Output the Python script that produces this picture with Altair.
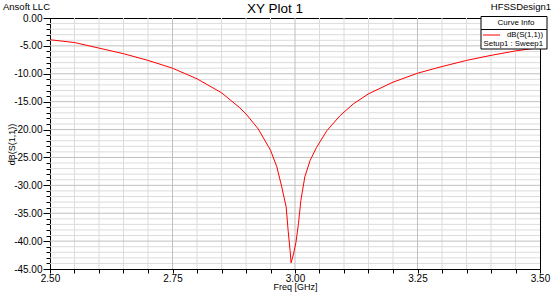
import altair as alt
import pandas as pd

# ---- data ----
freq = [2.50, 2.55, 2.60, 2.65, 2.70, 2.75, 2.80, 2.85, 2.886, 2.90, 2.925, 2.95,
        2.963, 2.973, 2.982, 2.986, 2.990, 2.992, 2.997, 3.002, 3.007, 3.012,
        3.020, 3.031, 3.044, 3.065, 3.092, 3.119, 3.15, 3.20, 3.25, 3.30, 3.35,
        3.40, 3.45, 3.50]
s11_db = [-3.9, -4.4, -5.4, -6.4, -7.6, -9.0, -10.9, -13.4, -16.0, -17.2, -19.9, -23.7,
          -26.7, -30.3, -33.9, -38.1, -41.7, -43.9, -42.3, -40.2, -36.9, -32.7,
          -28.5, -25.5, -23.2, -20.2, -17.5, -15.4, -13.6, -11.5, -9.9, -8.7, -7.6,
          -6.7, -5.9, -5.3]

x_major = [2.50, 2.75, 3.00, 3.25, 3.50]
x_minor = [2.55, 2.60, 2.65, 2.70, 2.80, 2.85, 2.90, 2.95, 3.05, 3.10, 3.15, 3.20,
           3.30, 3.35, 3.40, 3.45]
y_major = [0, -5, -10, -15, -20, -25, -30, -35, -40, -45]
y_minor = [v for v in range(-1, -45, -1) if v % 5 != 0]

FONT = "Liberation Sans"
MINOR_COL = "#dcdcdc"
MAJOR_COL = "#c0c0c0"

df = pd.DataFrame({"freq": freq, "db": s11_db})
xs = alt.Scale(domain=[2.5, 3.5], nice=False, zero=False)
ys = alt.Scale(domain=[-45, 0], nice=False, zero=False)

lab_expr = "replace(format(datum.value, '.2f'), '\u2212', '-')"

minor_y = alt.Chart(pd.DataFrame({"v": y_minor})).mark_rule(
    color=MINOR_COL, strokeWidth=1
).encode(
    y=alt.Y("v:Q", scale=ys, axis=alt.Axis(orient="left", values=y_minor, labels=False,
                                           domain=False, grid=False, title=None,
                                           tickSize=4, tickColor="black", tickWidth=1))
)
minor_x = alt.Chart(pd.DataFrame({"v": x_minor})).mark_rule(
    color=MINOR_COL, strokeWidth=1
).encode(
    x=alt.X("v:Q", scale=xs, axis=alt.Axis(orient="bottom", values=x_minor, labels=False,
                                           domain=False, grid=False, title=None,
                                           tickSize=4, tickColor="black", tickWidth=1))
)
major_x = alt.Chart(pd.DataFrame({"v": x_major[1:-1]})).mark_rule(
    color=MAJOR_COL, strokeWidth=1
).encode(x=alt.X("v:Q", scale=xs, axis=None))
major_y = alt.Chart(pd.DataFrame({"v": y_major[1:-1]})).mark_rule(
    color=MAJOR_COL, strokeWidth=1
).encode(y=alt.Y("v:Q", scale=ys, axis=None))

curve = alt.Chart(df).mark_line(color="#ff0000", strokeWidth=1).encode(
    x=alt.X("freq:Q", scale=xs,
            axis=alt.Axis(orient="bottom", values=x_major, labelExpr=lab_expr,
                          grid=False, tickSize=4, tickColor="black", domainColor="black",
                          labelFont=FONT, labelFontSize=10, labelColor="black",
                          labelPadding=0, labelFlush=False,
                          title="Freq [GHz]", titleFont=FONT, titleFontSize=9,
                          titleFontWeight="normal", titleColor="black",
                          titleX=245, titleY=17.5, titleBaseline="middle",
                          titleAlign="center")),
    y=alt.Y("db:Q", scale=ys,
            axis=alt.Axis(orient="left", values=y_major, labelExpr=lab_expr,
                          grid=False, tickSize=7, tickColor="black", domainColor="black",
                          labelFont=FONT, labelFontSize=10, labelColor="black",
                          labelPadding=1, labelFlush=False,
                          title="dB(S(1,1))", titleFont=FONT, titleFontSize=9,
                          titleFontWeight="normal", titleColor="black",
                          titleX=-39, titleY=126, titleAngle=-90,
                          titleBaseline="middle", titleAlign="center")),
)


def txt(s, x, y, size, align="left", baseline="alphabetic"):
    return alt.Chart(pd.DataFrame({"t": [s]})).mark_text(
        font=FONT, fontSize=size, color="black", align=align, baseline=baseline
    ).encode(x=alt.value(x), y=alt.value(y), text="t:N")


title = txt("XY Plot 1", 225, -5, 13.5, align="center")
company = txt("Ansoft LLC", -47, -8, 9.5)
design = txt("HFSSDesign1", 501, -8, 9.5, align="right")

leg_head = alt.Chart(pd.DataFrame({"a": [0]})).mark_rect(
    fill="white", stroke="black", strokeWidth=1
).encode(x=alt.value(431), x2=alt.value(497), y=alt.value(-1.5), y2=alt.value(11.5))
leg_body = alt.Chart(pd.DataFrame({"a": [0]})).mark_rect(
    fill="white", stroke="black", strokeWidth=1
).encode(x=alt.value(431), x2=alt.value(497), y=alt.value(11.5), y2=alt.value(31))
leg_line = alt.Chart(pd.DataFrame({"a": [0]})).mark_rule(
    color="#ff0000", strokeWidth=1
).encode(x=alt.value(433), x2=alt.value(450), y=alt.value(17))
leg_t1 = txt("Curve Info", 466, 5, 8, align="center", baseline="middle")
leg_t2 = txt("dB(S(1,1))", 493, 17, 7.8, align="right", baseline="middle")
leg_t3 = txt("Setup1 : Sweep1", 493, 25.5, 7.8, align="right", baseline="middle")

chart = alt.layer(
    minor_y, minor_x, major_x, major_y, curve,
    title, company, design,
    leg_head, leg_body, leg_line, leg_t1, leg_t2, leg_t3
).resolve_axis(x="independent", y="independent").properties(
    width=490, height=251,
    autosize=alt.AutoSizeParams(type="none"),
    padding={"left": 50, "top": 18, "right": 14, "bottom": 23},
    background="white",
).configure_view(stroke="black", strokeWidth=1)

chart.save("out.html", embed_options={"renderer": "svg", "actions": False})
